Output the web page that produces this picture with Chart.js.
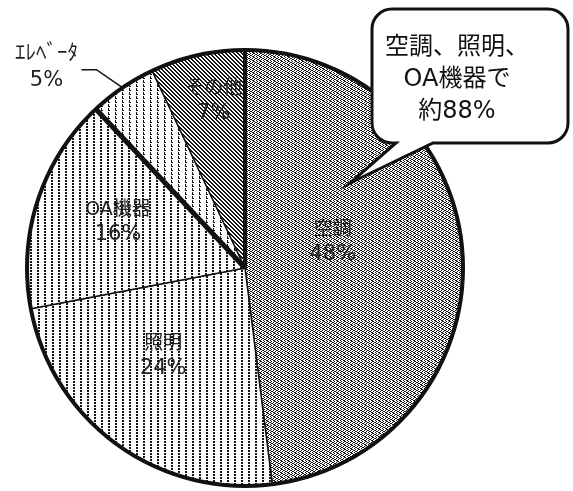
<!DOCTYPE html>
<html>
<head>
<meta charset="utf-8">
<script src="https://cdn.jsdelivr.net/npm/chart.js@4/dist/chart.umd.min.js"></script>
<style>
  body { margin: 0; background: #fff; }
  canvas { display: block; }
</style>
</head>
<body>
<canvas id="pie" width="573" height="491"></canvas>
<script>
// data
const categories = ['空調', '照明', 'OA機器', 'ｴﾚﾍﾞｰﾀ', 'その他'];
const shares = [48, 24, 16, 5, 7];
const percentLabels = ['48%', '24%', '16%', '5%', '7%'];
const calloutLines = ['空調、照明、', 'OA機器で', '約88%'];

// label placement: fraction of radius + angle shift (deg) from slice middle
const labelDist = [0.42, 0.55, 0.62, null, 0.78];
const labelShift = [-13, 7, 2, 0, 2];

const FONT = "'DejaVu Sans', 'Noto Sans CJK JP', sans-serif";

function makePattern(w, h, dots) {
  const c = document.createElement('canvas');
  c.width = w; c.height = h;
  const g = c.getContext('2d');
  g.fillStyle = '#fff';
  g.fillRect(0, 0, w, h);
  g.fillStyle = '#161616';
  dots.forEach(d => g.fillRect(d[0], d[1], d[2] || 1, d[3] || 1));
  return g.createPattern(c, 'repeat');
}

const patDense = makePattern(7, 4, [[0,0,2],[4,0],[1,1,2],[5,1],[0,2],[3,2,2],[2,3],[5,3,2]]);
const patStripe = makePattern(7, 3, [[3,0,2,2]]);
const patStripe2 = makePattern(7, 3, [[2,0,2,2]]);
const patLight = makePattern(7, 4, [[3,0,1,2],[3,2,2,1]]);
const patHatch = makePattern(4, 4, [[0,0,2],[1,1,2],[2,2,2],[3,3,1],[0,3,1]]);

const decorations = {
  id: 'decorations',
  afterDatasetsDraw(chart) {
    const ctx = chart.ctx;
    const arcs = chart.getDatasetMeta(0).data;
    const cx = arcs[0].x, cy = arcs[0].y, R = arcs[0].outerRadius;
    ctx.save();

    // thick outline of the pie
    ctx.strokeStyle = '#111';
    ctx.lineWidth = 4;
    ctx.beginPath();
    ctx.arc(cx, cy, R, 0, Math.PI * 2);
    ctx.stroke();

    // heavy dividers: before 空調 and before エレベータ
    [0, 3].forEach(i => {
      const a = arcs[i].startAngle;
      ctx.lineWidth = i === 0 ? 4 : 5;
      ctx.beginPath();
      ctx.moveTo(cx, cy);
      ctx.lineTo(cx + R * Math.cos(a), cy + R * Math.sin(a));
      ctx.stroke();
    });

    // labels inside slices
    ctx.fillStyle = '#222';
    ctx.textAlign = 'center';
    ctx.textBaseline = 'middle';
    arcs.forEach((arc, i) => {
      if (labelDist[i] == null) return;
      const mid = (arc.startAngle + arc.endAngle) / 2 + labelShift[i] * Math.PI / 180;
      const x = cx + R * labelDist[i] * Math.cos(mid);
      const y = cy + R * labelDist[i] * Math.sin(mid);
      ctx.font = '19px ' + FONT;
      ctx.fillText(categories[i], x, y - 12);
      ctx.font = '21px ' + FONT;
      ctx.fillText(percentLabels[i], x, y + 13);
    });

    // outside label for the elevator slice with leader line
    const el = arcs[3];
    const ma = (el.startAngle + el.endAngle) / 2;
    const ex = cx + R * Math.cos(ma), ey = cy + R * Math.sin(ma);
    ctx.lineWidth = 1.5;
    ctx.beginPath();
    ctx.moveTo(ex, ey);
    ctx.lineTo(ex - 26, ey - 18);
    ctx.lineTo(ex - 41, ey - 18);
    ctx.stroke();
    ctx.font = '21px ' + FONT;
    ctx.fillText(categories[3], ex - 76, ey - 34);
    ctx.fillText(percentLabels[3], ex - 76, ey - 7);

    // speech bubble
    const bx = 372, by = 9, bw = 196, bh = 134, r = 20;
    ctx.beginPath();
    ctx.moveTo(bx + r, by);
    ctx.lineTo(bx + bw - r, by);
    ctx.arcTo(bx + bw, by, bx + bw, by + r, r);
    ctx.lineTo(bx + bw, by + bh - r);
    ctx.arcTo(bx + bw, by + bh, bx + bw - r, by + bh, r);
    ctx.lineTo(433, by + bh);
    ctx.lineTo(350, 183);
    ctx.lineTo(396, by + bh);
    ctx.lineTo(bx + r, by + bh);
    ctx.arcTo(bx, by + bh, bx, by + bh - r, r);
    ctx.lineTo(bx, by + r);
    ctx.arcTo(bx, by, bx + r, by, r);
    ctx.closePath();
    ctx.fillStyle = '#fff';
    ctx.fill();
    ctx.lineWidth = 3;
    ctx.strokeStyle = '#111';
    ctx.stroke();

    ctx.fillStyle = '#111';
    ctx.font = '24px ' + FONT;
    calloutLines.forEach((t, i) => ctx.fillText(t, 457, 48 + i * 32));

    ctx.restore();
  }
};

new Chart(document.getElementById('pie'), {
  type: 'pie',
  data: {
    labels: categories,
    datasets: [{
      data: shares,
      backgroundColor: [patDense, patStripe, patStripe2, patLight, patHatch],
      borderColor: '#111',
      borderWidth: 1.5,
      hoverOffset: 0,
      radius: 218
    }]
  },
  options: {
    responsive: false,
    animation: false,
    events: [],
    layout: { padding: { left: 25, right: 108, top: 48, bottom: 3 } },
    plugins: {
      legend: { display: false },
      tooltip: { enabled: false }
    }
  },
  plugins: [decorations]
});
</script>
</body>
</html>
